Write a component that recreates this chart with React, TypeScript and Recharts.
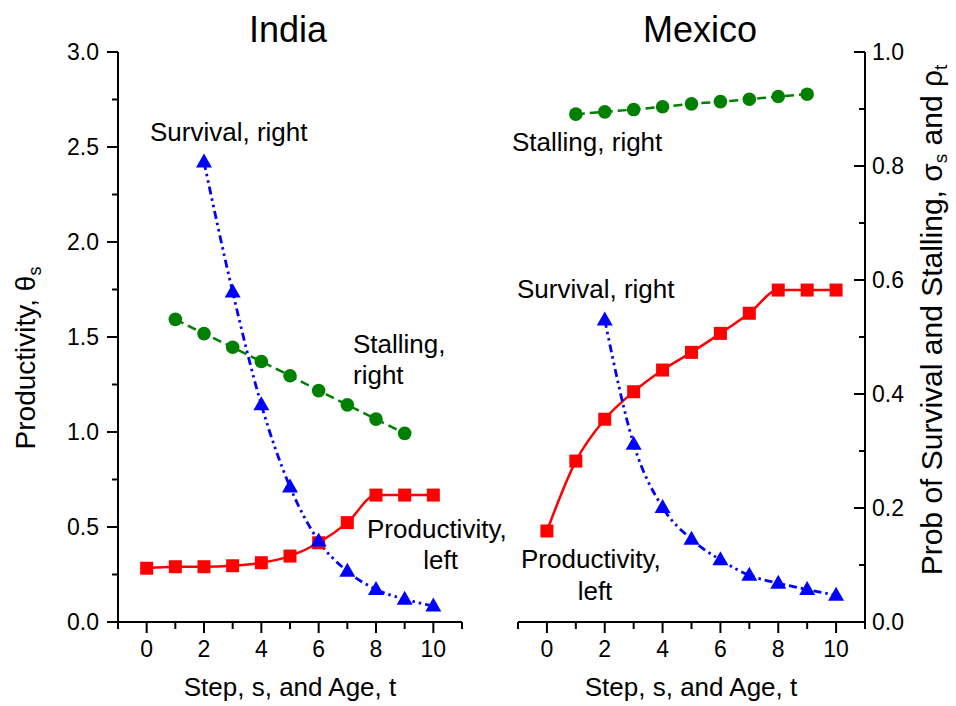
import { LineChart, Line, XAxis, YAxis } from "recharts";

const steps = [0, 1, 2, 3, 4, 5, 6, 7, 8, 9, 10];
const stallSteps = [1, 2, 3, 4, 5, 6, 7, 8, 9];
const survAges = [2, 3, 4, 5, 6, 7, 8, 9, 10];

const xTicks = [-1, 0, 1, 2, 3, 4, 5, 6, 7, 8, 9, 10, 11];
const leftTicks = [0, 0.25, 0.5, 0.75, 1, 1.25, 1.5, 1.75, 2, 2.25, 2.5, 2.75, 3];
const rightTicks = [0, 0.1, 0.2, 0.3, 0.4, 0.5, 0.6, 0.7, 0.8, 0.9, 1];

// India
const indiaProductivity = [0.283, 0.291, 0.291, 0.296, 0.312, 0.347, 0.417, 0.523, 0.668, 0.668, 0.668];
const indiaStalling = [0.531, 0.506, 0.482, 0.457, 0.432, 0.406, 0.381, 0.356, 0.331];
const indiaSurvival = [0.807, 0.579, 0.381, 0.237, 0.142, 0.089, 0.057, 0.04, 0.028];

// Mexico
const mexicoProductivity = [0.479, 0.847, 1.067, 1.212, 1.326, 1.419, 1.519, 1.625, 1.747, 1.747, 1.747];
const mexicoStalling = [0.891, 0.895, 0.899, 0.904, 0.909, 0.913, 0.917, 0.922, 0.926];
const mexicoSurvival = [0.53, 0.312, 0.201, 0.145, 0.109, 0.082, 0.068, 0.057, 0.047];

const FONT = "'Liberation Sans', Arial, sans-serif";

const toRows = (xs: number[], ys: number[]) => xs.map((x, i) => ({ x, y: ys[i] }));

const axisLine = { stroke: "#000", strokeWidth: 2 };

const XTick = (props: any) => {
  const { x, y, payload } = props;
  const v = payload.value;
  const major = v % 2 === 0 && v >= 0 && v <= 10;
  return (
    <g>
      <line x1={x} x2={x} y1={y} y2={y + (major ? 11 : 7)} stroke="#000" strokeWidth={2} />
      {major && (
        <text x={x} y={y + 35} textAnchor="middle" fontSize={23} fill="#000" fontFamily={FONT}>
          {v}
        </text>
      )}
    </g>
  );
};

const LeftTick = (props: any) => {
  const { x, y, payload } = props;
  const v = payload.value;
  const major = Math.abs(v * 2 - Math.round(v * 2)) < 1e-6;
  return (
    <g>
      <line x1={x - (major ? 11 : 6)} x2={x} y1={y} y2={y} stroke="#000" strokeWidth={2} />
      {major && (
        <text x={x - 19} y={y + 8} textAnchor="end" fontSize={23} fill="#000" fontFamily={FONT}>
          {v.toFixed(1)}
        </text>
      )}
    </g>
  );
};

const RightTick = (props: any) => {
  const { x, y, payload } = props;
  const v = payload.value;
  const major = Math.round(v * 10) % 2 === 0;
  return (
    <g>
      <line x1={x - (major ? 11 : 6)} x2={x} y1={y} y2={y} stroke="#000" strokeWidth={2} />
      {major && (
        <text x={x + 7} y={y + 8} textAnchor="start" fontSize={23} fill="#000" fontFamily={FONT}>
          {v.toFixed(1)}
        </text>
      )}
    </g>
  );
};

const squareDot = (p: any) =>
  p.cx == null ? null : (
    <rect key={`sq-${p.index}`} x={p.cx - 6.5} y={p.cy - 6.5} width={13} height={13} fill="#ff0000" />
  );

const circleDot = (p: any) =>
  p.cx == null ? null : <circle key={`ci-${p.index}`} cx={p.cx} cy={p.cy} r={6.8} fill="#008000" />;

const triangleDot = (p: any) =>
  p.cx == null ? null : (
    <polygon
      key={`tr-${p.index}`}
      points={`${p.cx},${p.cy - 8.5} ${p.cx + 8},${p.cy + 5.5} ${p.cx - 8},${p.cy + 5.5}`}
      fill="#0000ff"
    />
  );

function Panel({
  productivity,
  stalling,
  survival,
  side,
}: {
  productivity: number[];
  stalling: number[];
  survival: number[];
  side: "left" | "right";
}) {
  const isLeft = side === "left";
  return (
    <LineChart
      width={isLeft ? 480 : 476}
      height={706}
      margin={isLeft ? { top: 52, right: 18, bottom: 54, left: 0 } : { top: 52, right: 0, bottom: 54, left: 38 }}
      style={{ fontFamily: FONT }}
    >
      <XAxis
        type="number"
        dataKey="x"
        domain={[-1, 11]}
        ticks={xTicks}
        interval={0}
        tickLine={false}
        tickSize={0}
        tickMargin={0}
        tick={XTick}
        axisLine={axisLine}
        height={30}
      />
      <YAxis
        yAxisId="left"
        orientation="left"
        domain={[0, 3]}
        ticks={leftTicks}
        interval={0}
        width={118}
        hide={!isLeft}
        tickLine={false}
        tickSize={0}
        tickMargin={0}
        tick={LeftTick}
        axisLine={axisLine}
      />
      <YAxis
        yAxisId="right"
        orientation="right"
        domain={[0, 1]}
        ticks={rightTicks}
        interval={0}
        width={91}
        hide={isLeft}
        tickLine={false}
        tickSize={0}
        tickMargin={0}
        tick={RightTick}
        axisLine={axisLine}
      />
      <Line
        yAxisId="left"
        data={toRows(steps, productivity)}
        dataKey="y"
        type="monotone"
        stroke="#ff0000"
        strokeWidth={2.5}
        dot={squareDot}
        activeDot={false}
        isAnimationActive={false}
      />
      <Line
        yAxisId="right"
        data={toRows(stallSteps, stalling)}
        dataKey="y"
        type="linear"
        stroke="#008000"
        strokeWidth={2.5}
        strokeDasharray="9 5"
        dot={circleDot}
        activeDot={false}
        isAnimationActive={false}
      />
      <Line
        yAxisId="right"
        data={toRows(survAges, survival)}
        dataKey="y"
        type="monotone"
        stroke="#0000ff"
        strokeWidth={2.8}
        strokeDasharray="8 4 2.5 4 2.5 4"
        dot={triangleDot}
        activeDot={false}
        isAnimationActive={false}
      />
    </LineChart>
  );
}

export default function App() {
  const ann = { fontSize: 26, fill: "#000", fontFamily: FONT };
  return (
    <div style={{ position: "absolute", left: 0, top: 0, width: 956, height: 706, background: "#fff", fontFamily: FONT }}>
      <div style={{ position: "absolute", left: 0, top: 0 }}>
        <Panel productivity={indiaProductivity} stalling={indiaStalling} survival={indiaSurvival} side="left" />
      </div>
      <div style={{ position: "absolute", left: 480, top: 0 }}>
        <Panel productivity={mexicoProductivity} stalling={mexicoStalling} survival={mexicoSurvival} side="right" />
      </div>
      <svg
        width={956}
        height={706}
        style={{ position: "absolute", left: 0, top: 0, pointerEvents: "none" }}
      >
        <text x={288} y={42} textAnchor="middle" fontSize={36} fontFamily={FONT}>India</text>
        <text x={700} y={42} textAnchor="middle" fontSize={36} fontFamily={FONT}>Mexico</text>

        <text x={290} y={696} textAnchor="middle" fontSize={26} fontFamily={FONT}>Step, s, and Age, t</text>
        <text x={691} y={696} textAnchor="middle" fontSize={26} fontFamily={FONT}>Step, s, and Age, t</text>

        <text transform="translate(35,358) rotate(-90)" textAnchor="middle" fontSize={28} fontFamily={FONT}>
          Productivity, θ<tspan fontSize={18} dy={6}>s</tspan>
        </text>
        <text transform="translate(942,320) rotate(-90)" textAnchor="middle" fontSize={30} fontFamily={FONT}>
          Prob of Survival and Stalling, σ<tspan fontSize={19} dy={5}>s</tspan>
          <tspan dy={-5}> and ρ</tspan>
          <tspan fontSize={19} dy={5}>t</tspan>
        </text>

        {/* India annotations */}
        <text x={150} y={141} {...ann}>Survival, right</text>
        <text x={353} y={353} {...ann}>Stalling,</text>
        <text x={353} y={384} {...ann}>right</text>
        <text x={367} y={538} {...ann}>Productivity,</text>
        <text x={458} y={569} textAnchor="end" {...ann}>left</text>

        {/* Mexico annotations */}
        <text x={512} y={151} {...ann}>Stalling, right</text>
        <text x={517} y={298} {...ann}>Survival, right</text>
        <text x={521} y={568} {...ann}>Productivity,</text>
        <text x={595} y={600} textAnchor="middle" {...ann}>left</text>
      </svg>
    </div>
  );
}
